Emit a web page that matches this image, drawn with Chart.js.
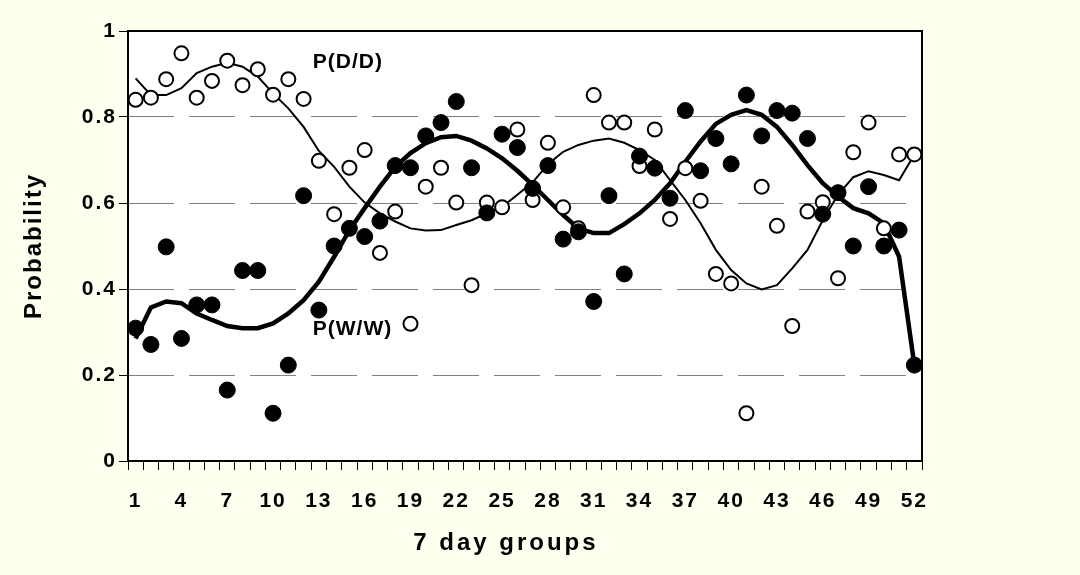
<!DOCTYPE html>
<html>
<head>
<meta charset="utf-8">
<script src="https://cdn.jsdelivr.net/npm/chart.js@4/dist/chart.umd.min.js"></script>
<style>
  html, body { margin: 0; padding: 0; background: #FFFFF0; }
  canvas { display: block; }
</style>
</head>
<body>
<canvas id="c" width="1080" height="575"></canvas>
<script>
// ---- data ----
const weeks = ['1','2','3','4','5','6','7','8','9','10','11','12','13','14','15','16','17','18','19','20','21','22','23','24','25','26','27','28','29','30','31','32','33','34','35','36','37','38','39','40','41','42','43','44','45','46','47','48','49','50','51','52'];
const shownTicks = ['1','4','7','10','13','16','19','22','25','28','31','34','37','40','43','46','49','52'];
const yTicks = [0, 0.2, 0.4, 0.6, 0.8, 1];

// P(D/D) observed (open circles)
const pDD = [0.840,0.845,0.888,0.948,0.845,0.884,0.931,0.874,0.911,0.852,0.888,0.842,0.698,0.574,0.682,0.723,0.484,0.580,0.319,0.638,0.682,0.601,0.409,0.601,0.590,0.771,0.607,0.740,0.590,0.541,0.851,0.787,0.787,0.686,0.771,0.563,0.681,0.605,0.435,0.413,0.111,0.638,0.547,0.314,0.580,0.602,0.425,0.718,0.787,0.541,0.713,0.713];
// P(W/W) observed (filled circles)
const pWW = [0.309,0.271,0.498,0.285,0.363,0.363,0.165,0.443,0.443,0.111,0.223,0.617,0.351,0.500,0.541,0.522,0.558,0.687,0.682,0.756,0.787,0.836,0.682,0.577,0.760,0.729,0.634,0.687,0.516,0.533,0.371,0.617,0.435,0.709,0.681,0.611,0.815,0.675,0.750,0.691,0.851,0.756,0.815,0.809,0.750,0.574,0.624,0.500,0.638,0.500,0.537,0.223];
// fitted curves
const fitDD = [0.890,0.851,0.851,0.867,0.902,0.917,0.926,0.917,0.894,0.855,0.820,0.777,0.721,0.684,0.638,0.601,0.576,0.557,0.541,0.536,0.537,0.549,0.560,0.576,0.591,0.619,0.648,0.690,0.719,0.735,0.745,0.750,0.740,0.723,0.700,0.653,0.607,0.553,0.491,0.444,0.413,0.399,0.409,0.448,0.491,0.560,0.619,0.660,0.674,0.665,0.653,0.713];
const fitWW = [0.285,0.357,0.371,0.367,0.343,0.328,0.314,0.309,0.309,0.320,0.343,0.374,0.417,0.475,0.537,0.588,0.638,0.684,0.716,0.739,0.753,0.756,0.745,0.727,0.704,0.675,0.642,0.607,0.572,0.541,0.530,0.530,0.551,0.576,0.607,0.646,0.696,0.743,0.784,0.805,0.816,0.805,0.777,0.735,0.688,0.646,0.615,0.588,0.576,0.553,0.475,0.223];

const FONT = "'Liberation Sans', Arial, sans-serif";

const spacingPlugin = {
  id: 'spacing',
  beforeUpdate(chart) { chart.ctx.letterSpacing = '2px'; },
  beforeLayout(chart) { chart.ctx.letterSpacing = '2px'; },
  beforeDraw(chart) {
    const ctx = chart.ctx;
    ctx.letterSpacing = '2px';
    const a = chart.chartArea;
    ctx.save();
    ctx.fillStyle = '#FFFFF0';
    ctx.fillRect(0, 0, chart.width, chart.height);
    ctx.fillStyle = '#FFFFFF';
    ctx.fillRect(a.left, a.top, a.right - a.left, a.bottom - a.top);
    ctx.restore();
  },
  beforeDatasetsDraw(chart) {
    const ctx = chart.ctx;
    const a = chart.chartArea;
    ctx.save();
    ctx.strokeStyle = '#000';
    ctx.lineWidth = 2;
    ctx.strokeRect(a.left, a.top, a.right - a.left, a.bottom - a.top);
    ctx.restore();
  },
  afterDraw(chart) {
    const ctx = chart.ctx;
    const a = chart.chartArea;
    const xs = chart.scales.x, ys = chart.scales.y;
    ctx.save();
    ctx.fillStyle = '#000';
    ctx.textBaseline = 'middle';
    ctx.textAlign = 'left';
    ctx.letterSpacing = '1px';
    ctx.font = "bold 21px " + FONT;
    ctx.fillText('P(D/D)', xs.getPixelForValue(11.6), ys.getPixelForValue(0.927));
    ctx.fillText('P(W/W)', xs.getPixelForValue(11.6), ys.getPixelForValue(0.307));
    // x axis title
    ctx.letterSpacing = '3px';
    ctx.font = "bold 24px " + FONT;
    ctx.textAlign = 'center';
    ctx.fillText('7 day groups', a.left + (a.right - a.left) * 0.476, 543);
    ctx.restore();
  }
};

new Chart(document.getElementById('c'), {
  type: 'line',
  data: {
    labels: weeks,
    datasets: [
      { label: 'P(W/W)', data: pWW, showLine: false, pointStyle: 'circle', pointRadius: 8,
        pointBackgroundColor: '#000', pointBorderColor: '#000', pointBorderWidth: 1 },
      { label: 'P(D/D)', data: pDD, showLine: false, pointStyle: 'circle', pointRadius: 7,
        pointBackgroundColor: '#fff', pointBorderColor: '#000', pointBorderWidth: 2 },
      { label: 'fit W/W', data: fitWW, borderColor: '#000', borderWidth: 4.5, pointRadius: 0,
        tension: 0, fill: false },
      { label: 'fit D/D', data: fitDD, borderColor: '#000', borderWidth: 2, pointRadius: 0,
        tension: 0, fill: false }
    ]
  },
  options: {
    responsive: false,
    animation: false,
    devicePixelRatio: 1,
    layout: { padding: { left: 0, right: 158, top: 31, bottom: 0 } },
    plugins: { legend: { display: false }, tooltip: { enabled: false }, title: { display: false } },
    scales: {
      x: {
        type: 'category',
        offset: true,
        grid: { offset: true, drawOnChartArea: false, drawTicks: true, tickLength: 9,
                tickColor: '#000', tickWidth: 1 },
        border: { display: false },
        ticks: {
          autoSkip: false, maxRotation: 0, minRotation: 0, padding: 19, color: '#000',
          font: { family: FONT, size: 21, weight: 'bold' },
          callback: function(v) { const l = this.getLabelForValue(v); return shownTicks.includes(l) ? l : ''; }
        },
        afterFit(scale) { scale.height = 114; }
      },
      y: {
        min: 0, max: 1,
        afterBuildTicks(scale) { scale.ticks = yTicks.map(v => ({ value: v })); },
        grid: {
          color: (c) => (c.tick && (c.tick.value === 0 || c.tick.value === 1)) ? 'rgba(0,0,0,0)' : '#808080',
          lineWidth: 1, tickLength: 9, tickColor: '#000', drawTicks: true
        },
        border: { display: false, dash: [46, 15] },
        ticks: {
          padding: 2, color: '#000',
          font: { family: FONT, size: 21, weight: 'bold' },
          callback: (v) => String(v)
        },
        title: { display: true, text: 'Probability', color: '#000',
                 font: { family: FONT, size: 24, weight: 'bold' }, padding: { top: 20, bottom: 0 } },
        afterFit(scale) { scale.width = 128; }
      }
    }
  },
  plugins: [spacingPlugin]
});
</script>
</body>
</html>
